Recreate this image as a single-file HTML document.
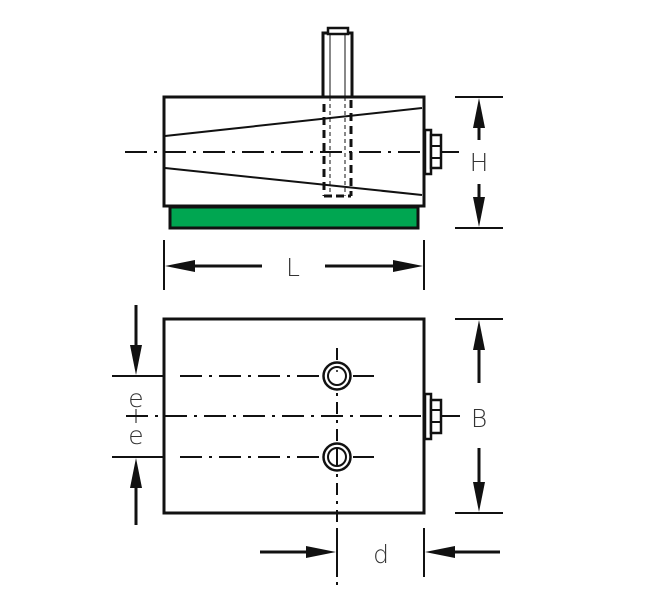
<!DOCTYPE html>
<html><head><style>
html,body{margin:0;padding:0;background:#fff;}
svg{display:block;}
text{font-family:"DejaVu Sans","Liberation Sans",sans-serif;font-size:25px;font-weight:200;fill:#333;}
</style></head><body>
<svg width="666" height="616" viewBox="0 0 666 616" xmlns="http://www.w3.org/2000/svg">
<g stroke="#111" fill="none">
<rect x="164" y="97" width="260" height="109" stroke-width="3" fill="#fff"/>
<rect x="170" y="207" width="248" height="21" stroke-width="3" fill="#00a651"/>
<line x1="165" y1="136" x2="422" y2="108" stroke-width="2"/>
<line x1="165" y1="168" x2="422" y2="195" stroke-width="2"/>
<rect x="323" y="33" width="29" height="64" stroke-width="3" fill="#fff"/>
<rect x="328" y="28" width="20" height="6" stroke-width="2.5" fill="#fff"/>
<line x1="330" y1="34" x2="330" y2="97" stroke-width="1"/>
<line x1="345" y1="34" x2="345" y2="97" stroke-width="1"/>
<line x1="324" y1="104" x2="324" y2="196" stroke-width="3" stroke-dasharray="8,5"/>
<line x1="351" y1="100" x2="351" y2="196" stroke-width="3" stroke-dasharray="8,5"/>
<line x1="330" y1="97" x2="330" y2="196" stroke-width="1" stroke-dasharray="4,3"/>
<line x1="345" y1="97" x2="345" y2="196" stroke-width="1" stroke-dasharray="4,3"/>
<line x1="324" y1="196" x2="351" y2="196" stroke-width="3" stroke-dasharray="8,4"/>
<line x1="125" y1="152" x2="462" y2="152" stroke-width="2" stroke-dasharray="22,7,3,7"/>
<rect x="425" y="130" width="6" height="44" stroke-width="2.5" fill="#fff"/>
<rect x="431" y="135" width="10" height="33" stroke-width="2.5" fill="#fff"/>
<line x1="431" y1="146" x2="441" y2="146" stroke-width="2"/>
<line x1="431" y1="158" x2="441" y2="158" stroke-width="2"/>
<line x1="455" y1="97" x2="503" y2="97" stroke-width="2"/>
<line x1="455" y1="228" x2="503" y2="228" stroke-width="2"/>
<line x1="479" y1="110" x2="479" y2="140" stroke-width="3"/>
<line x1="479" y1="184" x2="479" y2="215" stroke-width="3"/>
<polygon points="479,98 473,128 485,128" fill="#111" stroke="none"/>
<polygon points="479,227 473,197 485,197" fill="#111" stroke="none"/>
<line x1="164" y1="240" x2="164" y2="290" stroke-width="2"/>
<line x1="424" y1="240" x2="424" y2="290" stroke-width="2"/>
<line x1="175" y1="266" x2="262" y2="266" stroke-width="3"/>
<line x1="325" y1="266" x2="412" y2="266" stroke-width="3"/>
<polygon points="165,266 195,260 195,272" fill="#111" stroke="none"/>
<polygon points="423,266 393,260 393,272" fill="#111" stroke="none"/>

<rect x="164" y="319" width="260" height="194" stroke-width="3" fill="#fff"/>
<line x1="112" y1="376" x2="163" y2="376" stroke-width="2"/>
<line x1="112" y1="457" x2="163" y2="457" stroke-width="2"/>
<line x1="180" y1="376" x2="320" y2="376" stroke-width="2" stroke-dasharray="22,7,3,7"/>
<line x1="180" y1="457" x2="320" y2="457" stroke-width="2" stroke-dasharray="22,7,3,7"/>
<line x1="353" y1="376" x2="374" y2="376" stroke-width="2"/>
<line x1="353" y1="457" x2="374" y2="457" stroke-width="2"/>
<line x1="126" y1="416" x2="462" y2="416" stroke-width="2" stroke-dasharray="22,7,3,7"/>
<line x1="337" y1="348" x2="337" y2="590" stroke-width="2" stroke-dasharray="12,6,3,6"/>
<circle cx="337" cy="376" r="13.5" stroke-width="2.5" fill="#fff"/>
<circle cx="337" cy="376" r="9" stroke-width="2" fill="#fff"/>
<circle cx="337" cy="457" r="13.5" stroke-width="2.5" fill="#fff"/>
<circle cx="337" cy="457" r="9" stroke-width="2" fill="#fff"/>
<line x1="337" y1="448" x2="337" y2="466" stroke-width="2"/>
<circle cx="337" cy="371" r="1" fill="#111" stroke="none"/>
<rect x="425" y="394" width="6" height="45" stroke-width="2.5" fill="#fff"/>
<rect x="431" y="400" width="10" height="33" stroke-width="2.5" fill="#fff"/>
<line x1="431" y1="410" x2="441" y2="410" stroke-width="2"/>
<line x1="431" y1="422" x2="441" y2="422" stroke-width="2"/>
<line x1="136" y1="305" x2="136" y2="350" stroke-width="3"/>
<polygon points="136,375 130,345 142,345" fill="#111" stroke="none"/>
<line x1="136" y1="485" x2="136" y2="525" stroke-width="3"/>
<polygon points="136,458 130,488 142,488" fill="#111" stroke="none"/>
<line x1="136" y1="409" x2="136" y2="423" stroke-width="1"/>
<line x1="455" y1="319" x2="503" y2="319" stroke-width="2"/>
<line x1="455" y1="513" x2="503" y2="513" stroke-width="2"/>
<line x1="479" y1="330" x2="479" y2="383" stroke-width="3"/>
<line x1="479" y1="448" x2="479" y2="500" stroke-width="3"/>
<polygon points="479,320 473,350 485,350" fill="#111" stroke="none"/>
<polygon points="479,512 473,482 485,482" fill="#111" stroke="none"/>
<line x1="337" y1="528" x2="337" y2="577" stroke-width="2"/>
<line x1="424" y1="528" x2="424" y2="577" stroke-width="2"/>
<line x1="260" y1="552" x2="312" y2="552" stroke-width="3"/>
<polygon points="336,552 306,546 306,558" fill="#111" stroke="none"/>
<line x1="448" y1="552" x2="500" y2="552" stroke-width="3"/>
<polygon points="425,552 455,546 455,558" fill="#111" stroke="none"/>
</g>
<text x="479" y="171" text-anchor="middle">H</text>
<text x="293" y="276" text-anchor="middle">L</text>
<text x="479" y="427" text-anchor="middle">B</text>
<text x="136" y="407" text-anchor="middle">e</text>
<text x="136" y="444" text-anchor="middle">e</text>
<text x="381" y="563" text-anchor="middle">d</text>
</svg>
</body></html>
